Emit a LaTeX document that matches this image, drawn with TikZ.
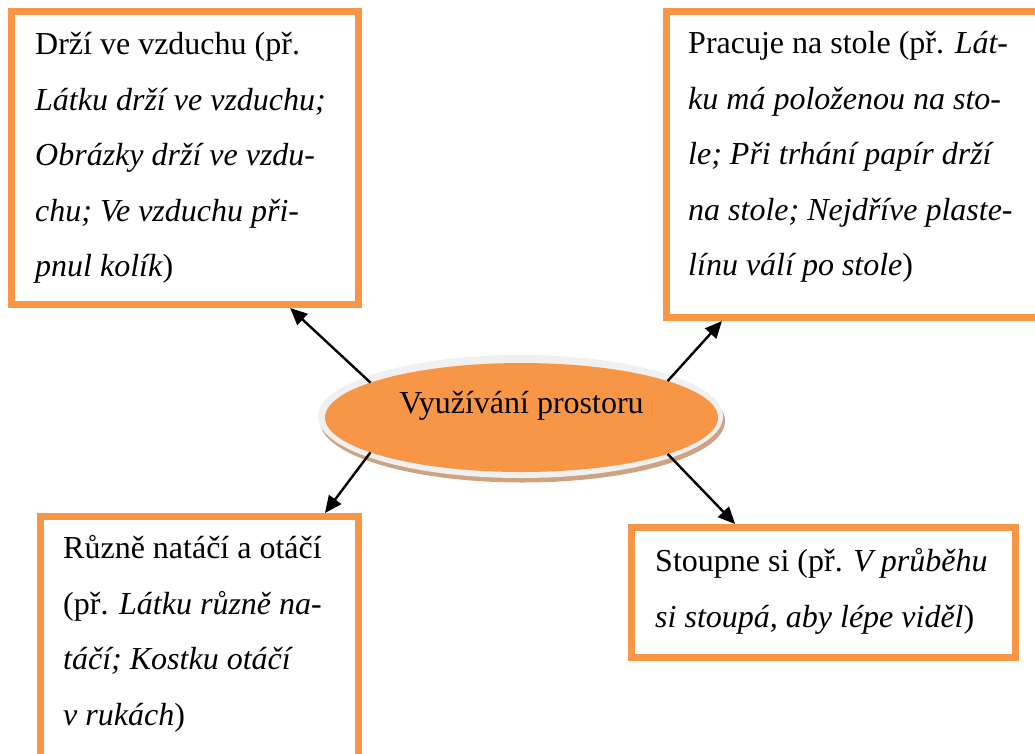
\documentclass[tikz,border=0pt]{standalone}
\usepackage{fontspec}
\setmainfont{Liberation Serif}
\usetikzlibrary{arrows.meta,calc,shapes.geometric}
\definecolor{accent}{HTML}{F79646}
\definecolor{rimgray}{HTML}{F0F0F0}
\definecolor{rimshade}{HTML}{CDA383}
\begin{document}
\begin{tikzpicture}[x=1pt,y=-1pt,
  frame/.style={draw=accent,line width=7pt,rectangle,inner sep=0pt,fill=white},
  body/.style={anchor=base west,inner sep=0pt,font=\fontsize{32}{55.5}\selectfont},
  link/.style={line width=2.4pt,-{Triangle[length=17pt,width=15pt]}}]
\useasboundingbox (0,0) rectangle (1035,753);

% outer frames
\node[frame,minimum width=347pt,minimum height=293pt] (tl) at (185,158) {};
\node[frame,minimum width=378.5pt,minimum height=306pt] (tr) at (855.75,164.5) {};
\node[frame,minimum width=318pt,minimum height=248.5pt] (bl) at (199.5,640.75) {};
\node[frame,minimum width=384pt,minimum height=130pt] (br) at (823.5,592.5) {};

% frame texts
\node[body] (tltext) at (35,54.5) {\parbox[t]{400pt}{Drží ve vzduchu (př.\\
\textit{Látku drží ve vzduchu;}\\
\textit{Obrázky drží ve vzdu-}\\
\textit{chu; Ve vzduchu při-}\\
\textit{pnul kolík})}};
\node[body] (trtext) at (688,53.5) {\parbox[t]{400pt}{Pracuje na stole (př. \textit{Lát-}\\
\textit{ku má položenou na sto-}\\
\textit{le; Při trhání papír drží}\\
\textit{na stole; Nejdříve plaste-}\\
\textit{línu válí po stole})}};
\node[body] (bltext) at (63,558.5) {\parbox[t]{400pt}{Různě natáčí a otáčí\\
(př. \textit{Látku různě na-}\\
\textit{táčí; Kostku otáčí}\\
\textit{v rukách})}};
\node[body] (brtext) at (655,571.5) {\parbox[t]{400pt}{Stoupne si (př. \textit{V průběhu}\\
\textit{si stoupá, aby lépe viděl})}};

% central ellipse with rim and shade
\fill[rimshade] (522.5,421) ellipse [x radius=202.5pt,y radius=61.5pt];
\fill[rimgray] (520.5,416.5) ellipse [x radius=202.5pt,y radius=61.5pt];
\node[ellipse,fill=accent,minimum width=393pt,minimum height=109pt,inner sep=0pt,
  outer sep=0pt,text height=10pt,text depth=18pt,font=\fontsize{32}{38}\selectfont]
  (hub) at (521.5,417.5) {Využívání prostoru};

% connectors
\draw[link] (hub.167.3) -- ($(tl.south west)!0.797!(tl.south east)$);
\draw[link] (hub.14.2) -- ($(tr.south west)!0.153!(tr.south east)$);
\draw[link] (hub.193.3) -- ($(bl.north west)!0.886!(bl.north east)$);
\draw[link] (hub.346.3) -- ($(br.north west)!0.274!(br.north east)$);
\end{tikzpicture}
\end{document}
